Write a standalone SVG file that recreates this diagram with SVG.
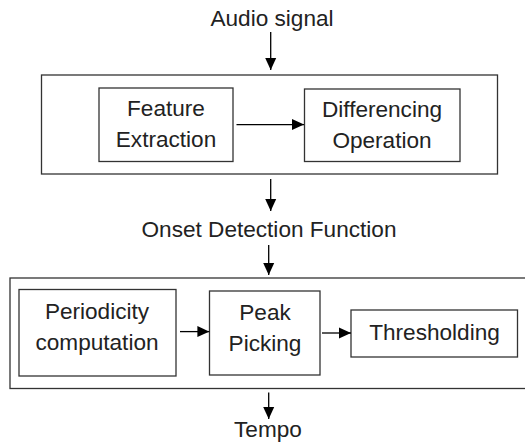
<svg xmlns="http://www.w3.org/2000/svg" width="525" height="443" viewBox="0 0 525 443">
<style>
.box{fill:#fff;stroke:#333;stroke-width:1.3}
.t{font-family:"Liberation Sans",Arial,sans-serif;font-size:22.6px;fill:#222;text-anchor:middle}
.c{stroke:#000;stroke-width:1.3;fill:none;marker-end:url(#ah)}
</style>
<defs>
<marker id="ah" markerWidth="12" markerHeight="14" refX="12" refY="6" orient="auto" markerUnits="userSpaceOnUse">
<path d="M0,0.5 L12,6 L0,11.5 Z" fill="#000"/>
</marker>
</defs>
<rect width="525" height="443" fill="#fff"/>
<g id="outer1"><rect class="box" x="41.5" y="75" width="456" height="99"/></g>
<g id="outer2"><rect class="box" x="10" y="278" width="530" height="110.5"/></g>
<g id="audio"><text class="t" x="272" y="26">Audio signal</text></g>
<g id="feature"><rect class="box" x="99" y="88" width="134" height="73.5"/>
<text class="t" x="166" y="116">Feature</text><text class="t" x="166" y="147">Extraction</text></g>
<g id="diff"><rect class="box" x="304.5" y="89" width="155.5" height="72.5"/>
<text class="t" x="382" y="117">Differencing</text><text class="t" x="382" y="148">Operation</text></g>
<g id="odf"><text class="t" x="269" y="237">Onset Detection Function</text></g>
<g id="period"><rect class="box" x="19" y="289.5" width="157" height="86.5"/>
<text class="t" x="97" y="319">Periodicity</text><text class="t" x="97" y="349.5">computation</text></g>
<g id="peak"><rect class="box" x="209.5" y="291" width="110.5" height="84"/>
<text class="t" x="265" y="319.5">Peak</text><text class="t" x="265" y="350.5">Picking</text></g>
<g id="thresh"><rect class="box" x="351" y="310" width="166.5" height="47"/>
<text class="t" x="434.5" y="339.5">Thresholding</text></g>
<g id="tempo"><text class="t" x="268" y="437">Tempo</text></g>
<g id="connectors">
<line class="c" x1="270.7" y1="32" x2="270.7" y2="70"/>
<line class="c" x1="236.5" y1="124.6" x2="304" y2="124.6"/>
<line class="c" x1="270.7" y1="179" x2="270.7" y2="211"/>
<line class="c" x1="268.7" y1="245" x2="268.7" y2="275"/>
<line class="c" x1="180" y1="331.6" x2="209.4" y2="331.6"/>
<line class="c" x1="322" y1="333" x2="351" y2="333"/>
<line class="c" x1="268.7" y1="392.5" x2="268.7" y2="419"/>
</g>
</svg>
